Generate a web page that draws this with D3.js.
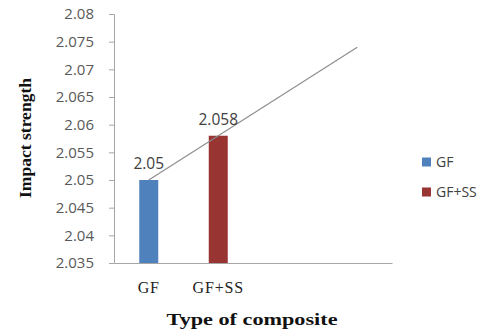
<!DOCTYPE html>
<html><head><meta charset="utf-8">
<script src="https://cdn.jsdelivr.net/npm/d3@7"></script>
<style>body{margin:0;background:#fff}svg{display:block}</style>
</head><body>
<script>
const categories = ["GF", "GF+SS", "", ""];
const series = ["GF", "GF+SS"];
const values = [2.05, 2.058];
const colors = ["#4F81BD", "#983533"];
const yTicks = [2.035, 2.04, 2.045, 2.05, 2.055, 2.06, 2.065, 2.07, 2.075, 2.08];
const yTickLabels = ["2.035","2.04","2.045","2.05","2.055","2.06","2.065","2.07","2.075","2.08"];
const dataLabels = ["2.05", "2.058"];

const W = 493, H = 329;
const svg = d3.select("body").append("svg").attr("width", W).attr("height", H);
const m = {left: 114, right: 392, top: 14, bottom: 263};
const x = d3.scaleBand().domain(d3.range(categories.length)).range([m.left, m.right]);
const y = d3.scaleLinear().domain([2.035, 2.08]).range([m.bottom, m.top]);

// y axis
const yAxis = d3.axisLeft(y).tickValues(yTicks).tickFormat((d,i)=>yTickLabels[i]).tickSize(5).tickPadding(15);
const gy = svg.append("g").attr("transform", `translate(${m.left},0)`).call(yAxis);
gy.select(".domain").attr("stroke", "#a6a6a6");
gy.selectAll(".tick line").attr("stroke", "#a6a6a6");
gy.selectAll(".tick text").attr("fill", "#595959").style("font-family", "'Open Sans', 'Noto Sans', sans-serif").style("font-size", "15px");

// x axis
const xAxis = d3.axisBottom(x).tickFormat(i=>categories[i]).tickSize(0).tickPadding(18);
const gx = svg.append("g").attr("transform", `translate(0,${m.bottom})`).call(xAxis);
gx.select(".domain").attr("stroke", "#a6a6a6");
gx.selectAll(".tick text").attr("fill", "#222").attr("y", 30).attr("dy", null)
  .style("font-family", "'Liberation Serif', 'DejaVu Serif', serif").style("font-size", "16px").style("letter-spacing", "0.8px");

// bars
const bw = 19;
svg.selectAll("rect.bar").data(values).join("rect").attr("class","bar")
  .attr("x", (d,i)=> x(i) + x.bandwidth()/2 - bw/2)
  .attr("y", d=>y(d)).attr("width", bw).attr("height", d=>y(2.035)-y(d))
  .attr("fill", (d,i)=>colors[i]);

// linear trendline (least squares) across categories 1..4
const xs = values.map((d,i)=>i+1);
const mx = d3.mean(xs), my = d3.mean(values);
const slope = d3.sum(xs.map((xv,i)=>(xv-mx)*(values[i]-my))) / d3.sum(xs.map(xv=>(xv-mx)**2));
const icpt = my - slope*mx;
const tx = i => x(i-1) + x.bandwidth()/2;
svg.append("line")
  .attr("x1", tx(1)).attr("y1", y(icpt + slope*1))
  .attr("x2", tx(categories.length)).attr("y2", y(icpt + slope*categories.length))
  .attr("stroke", "#8c8c8c").attr("stroke-width", 1.1);

// data labels
svg.selectAll("text.dl").data(values).join("text").attr("class","dl")
  .attr("x", (d,i)=> x(i) + x.bandwidth()/2)
  .attr("y", d=>y(d)-11).attr("text-anchor","middle")
  .attr("fill", "#404040").style("font-family", "'Open Sans', 'Noto Sans', sans-serif").style("font-size", "15.5px")
  .text((d,i)=>dataLabels[i]);

// axis titles
svg.append("text").attr("transform", `translate(31,${138}) rotate(-90)`)
  .attr("text-anchor","middle").attr("fill","#111")
  .attr("textLength", 120).attr("lengthAdjust", "spacingAndGlyphs")
  .style("font-family", "'Liberation Serif', 'DejaVu Serif', serif").style("font-weight","bold").style("font-size","16.5px")
  .text("Impact strength");
svg.append("text").attr("x", 252).attr("y", 325).attr("text-anchor","middle").attr("fill","#111")
  .attr("textLength", 171).attr("lengthAdjust", "spacingAndGlyphs")
  .style("font-family", "'Liberation Serif', 'DejaVu Serif', serif").style("font-weight","bold").style("font-size","17px")
  .text("Type of composite");

// legend
const lg = svg.append("g");
series.forEach((s,i)=>{
  const yy = 162 + i*30;
  lg.append("rect").attr("x", 422).attr("y", yy-4.5).attr("width", 9).attr("height", 9).attr("fill", colors[i]);
  lg.append("text").attr("x", 436).attr("y", yy+5).attr("fill","#404040")
    .style("font-family", "'Open Sans', 'Noto Sans', sans-serif").style("font-size","14px").text(s);
});
</script>
</body></html>
